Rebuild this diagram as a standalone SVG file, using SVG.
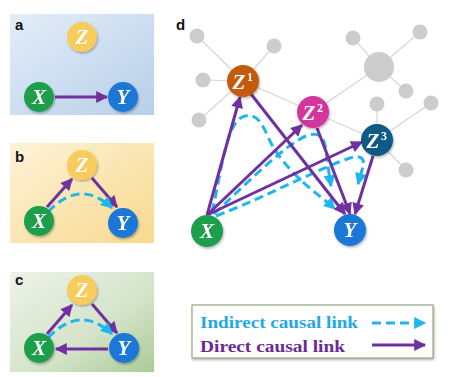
<svg xmlns="http://www.w3.org/2000/svg" width="451" height="377" viewBox="0 0 451 377">
<defs>
<linearGradient id="bgA" x1="0" y1="0" x2="1" y2="1"><stop offset="0" stop-color="#e4edf8"/><stop offset="1" stop-color="#b7cfe9"/></linearGradient>
<linearGradient id="bgB" x1="0" y1="0" x2="1" y2="1"><stop offset="0" stop-color="#fdf3d8"/><stop offset="1" stop-color="#f8d98e"/></linearGradient>
<linearGradient id="bgC" x1="0" y1="0" x2="1" y2="1"><stop offset="0" stop-color="#eef3ea"/><stop offset="0.6" stop-color="#d3e3c8"/><stop offset="1" stop-color="#aacb98"/></linearGradient>
<marker id="ap" viewBox="0 0 10 10" refX="9" refY="5" markerWidth="4.5" markerHeight="4" orient="auto" markerUnits="strokeWidth"><path d="M0,0 L10,5 L0,10 z" fill="#7030a0"/></marker>
<marker id="ac" viewBox="0 0 10 10" refX="9" refY="5" markerWidth="4.5" markerHeight="4" orient="auto" markerUnits="strokeWidth"><path d="M0,0 L10,5 L0,10 z" fill="#1fb6ee"/></marker>
<filter id="sh" x="-30%" y="-30%" width="160%" height="160%"><feDropShadow dx="1" dy="1.5" stdDeviation="1.2" flood-color="#000" flood-opacity="0.3"/></filter>
</defs>
<style>
.lbl{font-family:"Liberation Sans",Arial,sans-serif;font-weight:bold;font-size:15px;fill:#111}
.nt{font-family:"Liberation Serif","Times New Roman",serif;font-weight:bold;font-style:italic;font-size:21px;fill:#fff;text-anchor:middle}
.sup{font-family:"Liberation Serif","Times New Roman",serif;font-weight:bold;font-size:12px;fill:#fff;font-style:normal}
.dir{fill:none;stroke:#7030a0;stroke-width:3;marker-end:url(#ap)}
.ind{fill:none;stroke:#1fb6ee;stroke-width:3;stroke-dasharray:9 5;marker-end:url(#ac)}
.gl{stroke:#d6d6d6;stroke-width:1.2}
.gn{fill:#cccccc}
.cX{fill:#1e9e4c}.cY{fill:#1a78d6}.cZ{fill:#f7cb5c}
</style>

<!-- panel backgrounds -->
<rect x="10" y="14" width="144" height="101" fill="url(#bgA)"/>
<rect x="10" y="143" width="144" height="100" fill="url(#bgB)"/>
<rect x="10" y="272" width="144" height="100" fill="url(#bgC)"/>
<text class="lbl" x="15" y="30">a</text>
<text class="lbl" x="15" y="162">b</text>
<text class="lbl" x="15" y="285">c</text>
<text class="lbl" x="176" y="30">d</text>

<!-- gray network in d -->
<g id="gray-network">
<line class="gl" x1="243" y1="81" x2="197" y2="36"/>
<line class="gl" x1="243" y1="81" x2="274" y2="46"/>
<line class="gl" x1="243" y1="81" x2="203" y2="80"/>
<line class="gl" x1="243" y1="81" x2="199" y2="120"/>
<line class="gl" x1="243" y1="81" x2="313" y2="112"/>
<line class="gl" x1="313" y1="112" x2="379" y2="67"/>
<line class="gl" x1="379" y1="67" x2="353" y2="38"/>
<line class="gl" x1="379" y1="67" x2="420" y2="32"/>
<line class="gl" x1="379" y1="67" x2="406" y2="91"/>
<line class="gl" x1="313" y1="112" x2="377" y2="140"/>
<line class="gl" x1="377" y1="140" x2="377" y2="104"/>
<line class="gl" x1="377" y1="140" x2="431" y2="103"/>
<line class="gl" x1="377" y1="140" x2="406" y2="170"/>
<circle class="gn" cx="197" cy="36" r="7.5"/>
<circle class="gn" cx="274" cy="46" r="7.5"/>
<circle class="gn" cx="203" cy="80" r="7.5"/>
<circle class="gn" cx="199" cy="120" r="7.5"/>
<circle class="gn" cx="379" cy="67" r="15"/>
<circle class="gn" cx="353" cy="38" r="7.5"/>
<circle class="gn" cx="420" cy="32" r="7.5"/>
<circle class="gn" cx="406" cy="91" r="7.5"/>
<circle class="gn" cx="377" cy="104" r="7.5"/>
<circle class="gn" cx="431" cy="103" r="7.5"/>
<circle class="gn" cx="406" cy="170" r="7.5"/>
</g>

<g id="connectors">
<!-- a -->
<line class="dir" x1="55" y1="97" x2="107" y2="97"/>
<!-- b -->
<line class="dir" x1="47" y1="207" x2="72" y2="179"/>
<line class="dir" x1="92" y1="178" x2="117" y2="207"/>
<path class="ind" d="M48,212 Q80,178 112,208"/>
<!-- c -->
<line class="dir" x1="47" y1="334" x2="72" y2="305"/>
<line class="dir" x1="92" y1="304" x2="117" y2="333"/>
<path class="ind" d="M48,338 Q80,304 112,334"/>
<line class="dir" x1="108" y1="349" x2="56" y2="349"/>
<!-- d dashed -->
<path class="ind" d="M212,212 C222,170 226,120 245,116 C262,112 265,135 275,150 C295,180 320,195 335,209"/>
<path class="ind" d="M214,214 C250,180 285,145 306,136 C322,130 326,140 327,160 L331,186"/>
<path class="ind" d="M216,216 C270,195 320,168 350,158 C362,154 366,160 362,170 L358,184"/>
<!-- d solid -->
<line class="dir" x1="207" y1="215" x2="240" y2="97"/>
<line class="dir" x1="207" y1="215" x2="302" y2="125"/>
<line class="dir" x1="207" y1="215" x2="362" y2="142"/>
<line class="dir" x1="251" y1="94" x2="345" y2="214"/>
<line class="dir" x1="317" y1="128" x2="350" y2="214"/>
<line class="dir" x1="373" y1="156" x2="355" y2="214"/>
</g>

<!-- nodes panel a -->
<g id="a-Z" filter="url(#sh)"><circle class="cZ" cx="82" cy="37" r="15"/><text class="nt" x="82" y="44">Z</text></g>
<g id="a-X" filter="url(#sh)"><circle class="cX" cx="39" cy="97" r="15"/><text class="nt" x="39" y="104">X</text></g>
<g id="a-Y" filter="url(#sh)"><circle class="cY" cx="123" cy="97" r="15"/><text class="nt" x="123" y="104">Y</text></g>
<!-- panel b -->
<g id="b-Z" filter="url(#sh)"><circle class="cZ" cx="82" cy="165" r="15"/><text class="nt" x="82" y="172">Z</text></g>
<g id="b-X" filter="url(#sh)"><circle class="cX" cx="39" cy="221" r="15"/><text class="nt" x="39" y="228">X</text></g>
<g id="b-Y" filter="url(#sh)"><circle class="cY" cx="123" cy="223" r="15"/><text class="nt" x="123" y="230">Y</text></g>
<!-- panel c -->
<g id="c-Z" filter="url(#sh)"><circle class="cZ" cx="82" cy="290" r="15"/><text class="nt" x="82" y="297">Z</text></g>
<g id="c-X" filter="url(#sh)"><circle class="cX" cx="39" cy="348" r="15"/><text class="nt" x="39" y="355">X</text></g>
<g id="c-Y" filter="url(#sh)"><circle class="cY" cx="124" cy="348" r="15"/><text class="nt" x="124" y="355">Y</text></g>
<!-- panel d -->
<g id="d-Z1" filter="url(#sh)"><circle cx="243" cy="81" r="16" fill="#c55a11"/><text class="nt" x="239" y="89">Z</text><text class="sup" x="247" y="81">1</text></g>
<g id="d-Z2" filter="url(#sh)"><circle cx="313" cy="112" r="16" fill="#d3359c"/><text class="nt" x="309" y="120">Z</text><text class="sup" x="317" y="112">2</text></g>
<g id="d-Z3" filter="url(#sh)"><circle cx="377" cy="140" r="16" fill="#0d5a86"/><text class="nt" x="373" y="148">Z</text><text class="sup" x="381" y="140">3</text></g>
<g id="d-X" filter="url(#sh)"><circle class="cX" cx="207" cy="231" r="16"/><text class="nt" x="207" y="238">X</text></g>
<g id="d-Y" filter="url(#sh)"><circle class="cY" cx="350" cy="230" r="16"/><text class="nt" x="350" y="237">Y</text></g>

<!-- legend -->
<g id="legend">
<rect x="192" y="305" width="241" height="53" fill="#fff" stroke="#7f9a68" stroke-width="1" filter="url(#sh)"/>
<text x="200" y="328" font-family="Liberation Serif,'Times New Roman',serif" font-weight="bold" font-size="17" fill="#1fa9e6" textLength="158" lengthAdjust="spacingAndGlyphs">Indirect causal link</text>
<text x="200" y="352" font-family="Liberation Serif,'Times New Roman',serif" font-weight="bold" font-size="17" fill="#6a2a96" textLength="145" lengthAdjust="spacingAndGlyphs">Direct causal link</text>
<line class="ind" x1="372" y1="323" x2="425" y2="323"/>
<line class="dir" x1="372" y1="345" x2="425" y2="345"/>
</g>
</svg>
